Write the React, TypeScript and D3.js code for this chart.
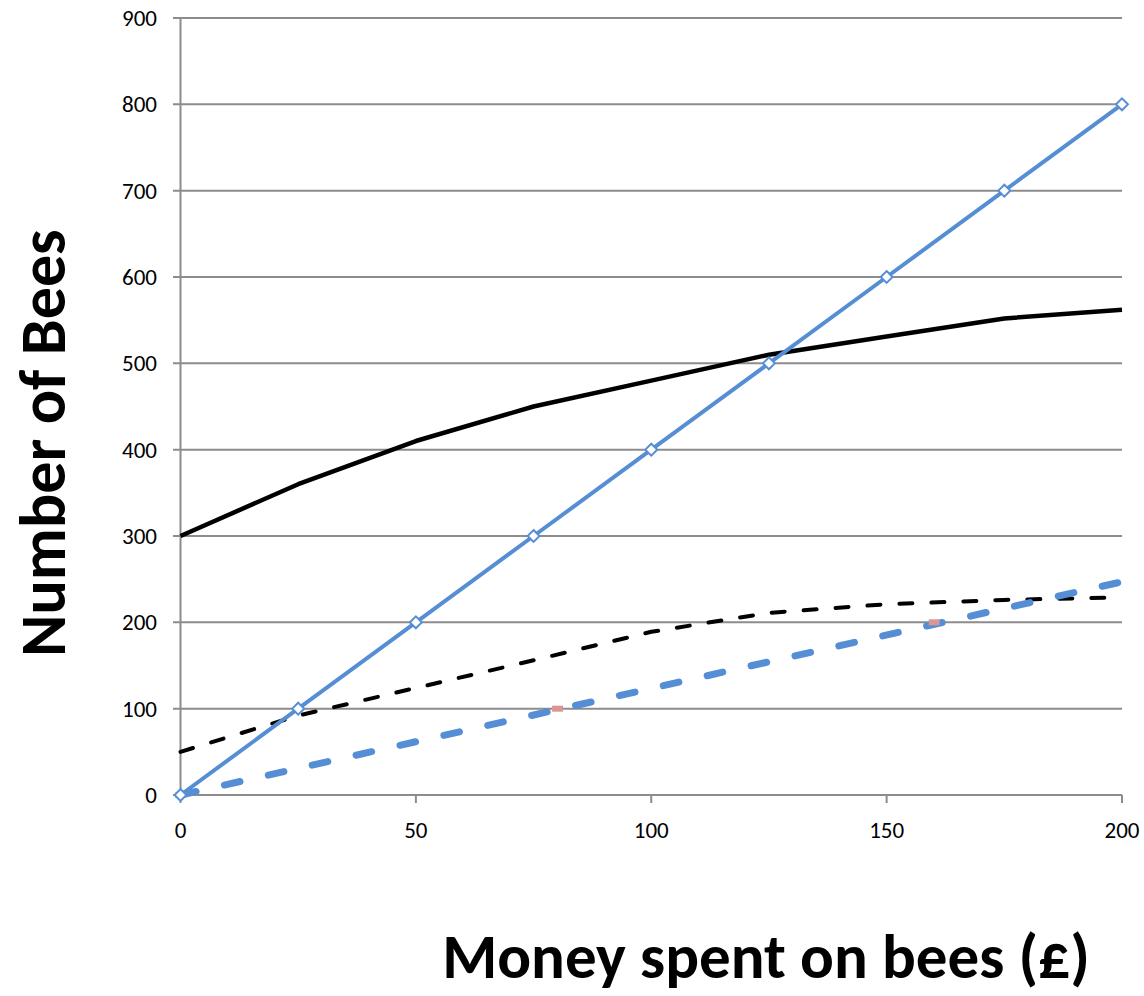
import React, { useEffect, useRef } from 'react';
import * as d3 from 'd3';

// money spent (£)
const money = [0, 25, 50, 75, 100, 125, 150, 175, 200];
const beesLinear = [0, 100, 200, 300, 400, 500, 600, 700, 800];
const beesCurve = [300, 360, 410, 450, 480, 510, 531, 552, 562];
const beesLowCurve = [50, 92, 124, 156, 189, 211, 221, 226, 229];
// scattered markers and their dashed trend
const pinkX = [0, 80, 160];
const pinkY = [0, 100, 200];
const trendX = [0, 200];
const trendY = [0, 247];

const xTicks = [0, 50, 100, 150, 200];
const yTicks = [0, 100, 200, 300, 400, 500, 600, 700, 800, 900];

const BLUE = '#558ed5';
const PINK = '#d99694';
const GRID = '#8c8c8c';
const FONT = 'Carlito, Calibri, Lato, sans-serif';

const App: React.FC = () => {
  const svgRef = useRef<SVGSVGElement>(null);

  useEffect(() => {
    if (!svgRef.current) return;
    const svg = d3.select(svgRef.current);
    svg.selectAll('*').remove();

    const x = d3.scaleLinear().domain([0, 200]).range([180.5, 1122]);
    const y = d3.scaleLinear().domain([0, 900]).range([795, 18]);

    // Grid
    svg
      .append('g')
      .selectAll('line')
      .data(yTicks)
      .join('line')
      .attr('x1', 173)
      .attr('x2', x(200))
      .attr('y1', d => y(d))
      .attr('y2', d => y(d))
      .attr('stroke', GRID)
      .attr('stroke-width', 2);

    // Y axis line
    svg
      .append('line')
      .attr('x1', x(0))
      .attr('x2', x(0))
      .attr('y1', y(900))
      .attr('y2', y(0))
      .attr('stroke', GRID)
      .attr('stroke-width', 2);

    // X tick marks
    svg
      .append('g')
      .selectAll('line')
      .data(xTicks)
      .join('line')
      .attr('x1', d => x(d))
      .attr('x2', d => x(d))
      .attr('y1', y(0))
      .attr('y2', y(0) + 8)
      .attr('stroke', GRID)
      .attr('stroke-width', 2);

    // Tick labels
    svg
      .append('g')
      .selectAll('text')
      .data(yTicks)
      .join('text')
      .attr('x', 157)
      .attr('y', d => y(d))
      .attr('dy', '0.35em')
      .attr('text-anchor', 'end')
      .style('font-family', FONT)
      .style('font-size', '23px')
      .text(d => d);

    svg
      .append('g')
      .selectAll('text')
      .data(xTicks)
      .join('text')
      .attr('x', d => x(d))
      .attr('y', 838)
      .attr('text-anchor', 'middle')
      .style('font-family', FONT)
      .style('font-size', '23px')
      .text(d => d);

    const line = d3
      .line<number>()
      .x((d, i) => x(money[i]))
      .y(d => y(d));

    // Black dashed curve
    svg
      .append('path')
      .datum(beesLowCurve)
      .attr('d', line)
      .attr('fill', 'none')
      .attr('stroke', '#000')
      .attr('stroke-width', 4)
      .attr('stroke-linecap', 'round')
      .attr('stroke-dasharray', '13 19');

    // Black solid curve
    svg
      .append('path')
      .datum(beesCurve)
      .attr('d', line)
      .attr('fill', 'none')
      .attr('stroke', '#000')
      .attr('stroke-width', 4.5)
      .attr('stroke-linejoin', 'round');

    // Blue dashed trend
    const trendLine = d3
      .line<number>()
      .x((d, i) => x(trendX[i]))
      .y(d => y(d));
    svg
      .append('path')
      .datum(trendY)
      .attr('d', trendLine)
      .attr('fill', 'none')
      .attr('stroke', BLUE)
      .attr('stroke-width', 7)
      .attr('stroke-linecap', 'round')
      .attr('stroke-dasharray', '16 29');

    // Pink markers
    svg
      .append('g')
      .selectAll('rect')
      .data(pinkX)
      .join('rect')
      .attr('x', d => x(d) - 5)
      .attr('y', (d, i) => y(pinkY[i]) - 3)
      .attr('width', 11)
      .attr('height', 6)
      .attr('fill', PINK);

    // Blue solid line with diamonds
    svg
      .append('path')
      .datum(beesLinear)
      .attr('d', line)
      .attr('fill', 'none')
      .attr('stroke', BLUE)
      .attr('stroke-width', 4);

    svg
      .append('g')
      .selectAll('path')
      .data(beesLinear)
      .join('path')
      .attr('d', d3.symbol(d3.symbolDiamond2, 90)())
      .attr('transform', (d, i) => `translate(${x(money[i])},${y(d)})`)
      .attr('fill', '#fff')
      .attr('stroke', BLUE)
      .attr('stroke-width', 2);

    // Axis titles
    svg
      .append('text')
      .attr('transform', 'translate(65,443) rotate(-90)')
      .attr('text-anchor', 'middle')
      .style('font-family', FONT)
      .style('font-weight', 'bold')
      .style('font-size', '64px')
      .text('Number of Bees');

    svg
      .append('text')
      .attr('x', 766)
      .attr('y', 978)
      .attr('text-anchor', 'middle')
      .style('font-family', FONT)
      .style('font-weight', 'bold')
      .style('font-size', '63px')
      .text('Money spent on bees (£)');
  }, []);

  return (
    <svg
      ref={svgRef}
      width={1144}
      height={996}
      style={{ position: 'absolute', left: 0, top: 0, background: '#fff' }}
    />
  );
};

export default App;
